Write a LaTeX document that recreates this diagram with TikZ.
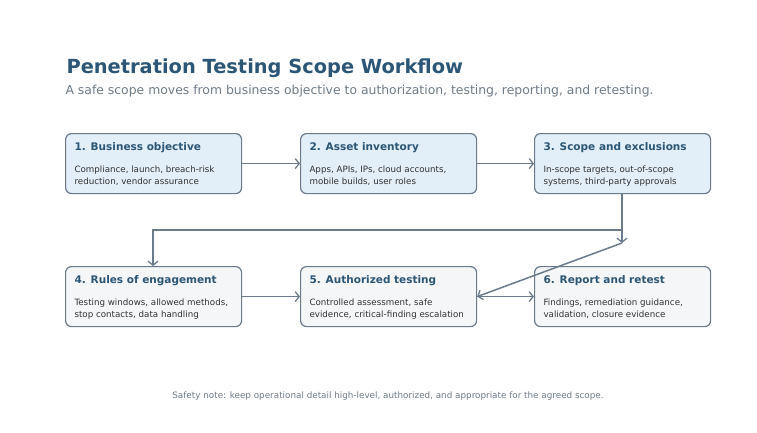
\documentclass[tikz,border=0pt]{standalone}
\usepackage{fontspec}
\setmainfont{DejaVu Sans}
\usetikzlibrary{positioning,arrows.meta}
\definecolor{edgegray}{HTML}{6B7B8B}
\definecolor{titleblue}{HTML}{2B5676}
\definecolor{subgray}{HTML}{6F7B86}
\definecolor{topfill}{HTML}{E2EEF8}
\definecolor{lowfill}{HTML}{F4F6F8}
\begin{document}
\begin{tikzpicture}[x=1pt,y=-1pt]
    \tikzset{
        stage/.style = {rectangle, draw=edgegray, line width=1.2pt, rounded corners=6pt, minimum width=176pt, minimum height=60pt, anchor=north west},
        head/.style = {anchor=west, font=\fontsize{10.5}{12}\selectfont\bfseries, text=titleblue},
        body/.style = {anchor=north west, align=left, font=\fontsize{8.7}{12.5}\selectfont, text=black!80},
        line/.style = {draw=edgegray, line width=1.5pt, -{Straight Barb[length=4pt,width=10pt,line width=1.3pt]}}
    }
    \useasboundingbox (0,0) rectangle (757,432);

    \node[anchor=west, font=\fontsize{19.4}{22}\selectfont\bfseries, text=titleblue] (title) at (63,68) {Penetration Testing Scope Workflow};
    \node[anchor=west, font=\fontsize{12.4}{14}\selectfont, text=subgray] (sub) at (62,91) {A safe scope moves from business objective to authorization, testing, reporting, and retesting.};

    \node[stage, fill=topfill](s_1) at (65,133){};
    \node[stage, fill=topfill](s_2) at (300,133){};
    \node[stage, fill=topfill](s_3) at (534,133){};
    \node[stage, fill=lowfill](s_4) at (65,266){};
    \node[stage, fill=lowfill](s_5) at (300,266){};
    \node[stage, fill=lowfill](s_6) at (534,266){};

    \node[head] at (71,148) {1. Business objective};
    \node[body] at (71,162) {Compliance, launch, breach-risk\\reduction, vendor assurance};
    \node[head] at (306,148) {2. Asset inventory};
    \node[body] at (306,162) {Apps, APIs, IPs, cloud accounts,\\mobile builds, user roles};
    \node[head] at (540,148) {3. Scope and exclusions};
    \node[body] at (540,162) {In-scope targets, out-of-scope\\systems, third-party approvals};
    \node[head] at (71,281) {4. Rules of engagement};
    \node[body] at (71,295) {Testing windows, allowed methods,\\stop contacts, data handling};
    \node[head] at (306,281) {5. Authorized testing};
    \node[body] at (306,295) {Controlled assessment, safe\\evidence, critical-finding escalation};
    \node[head] at (540,281) {6. Report and retest};
    \node[body] at (540,295) {Findings, remediation guidance,\\validation, closure evidence};

    \coordinate (turn) at (622,243);
    \coordinate (bend) at (622,230);
    \coordinate (drop) at (153,230);

    \path [line] (s_1) -- (s_2);
    \path [line] (s_2) -- (s_3);
    \path [line] (s_3.south -| turn) -- (turn);
    \path [line] (bend) -- (drop) -- (drop |- s_4.north);
    \path [line] (s_4) -- (s_5);
    \path [line] (turn) -- (s_5.east);
    \path [line] (s_5) -- (s_6);

    \node[font=\fontsize{8.8}{10}\selectfont, text=subgray] (note) at (388,396) {Safety note: keep operational detail high-level, authorized, and appropriate for the agreed scope.};
\end{tikzpicture}
\end{document}
